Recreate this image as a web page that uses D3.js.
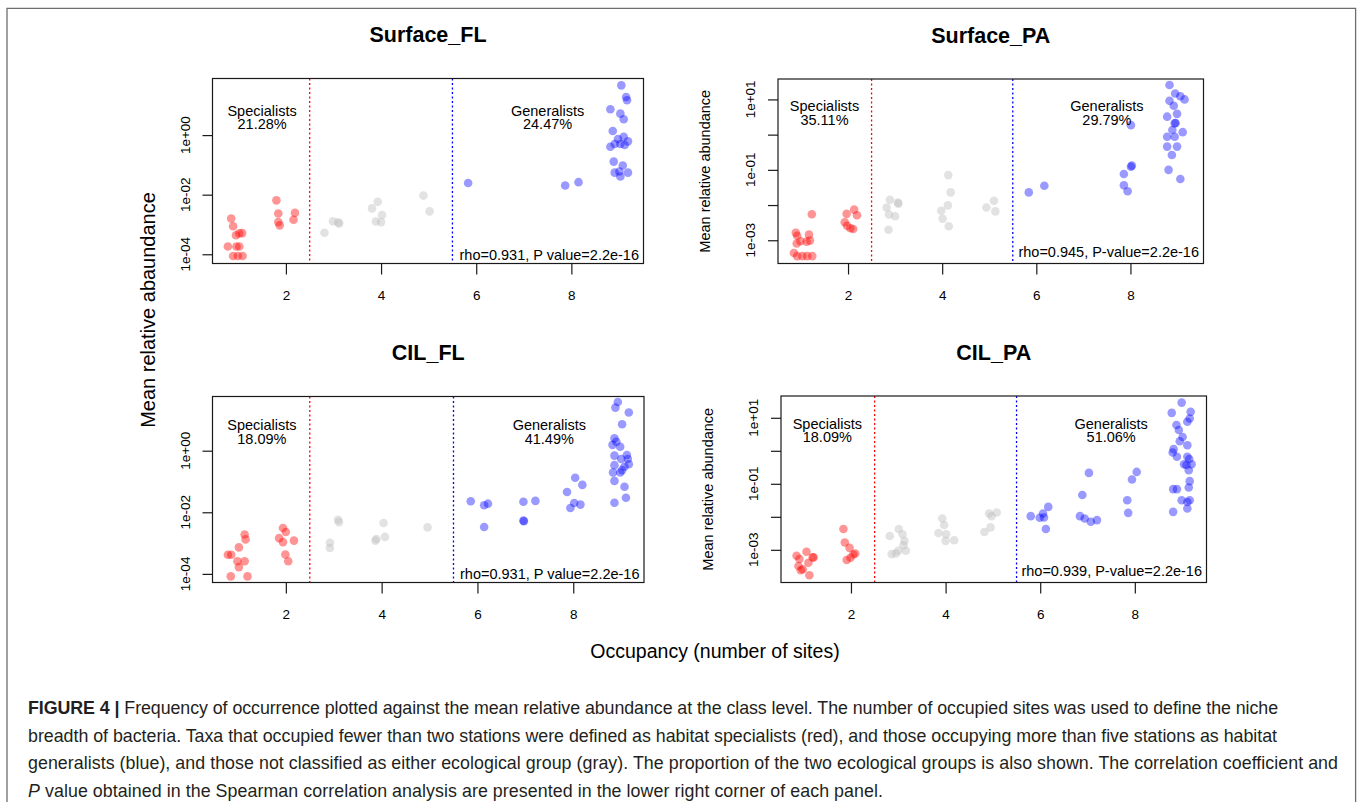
<!DOCTYPE html>
<html>
<head>
<meta charset="utf-8">
<script src="https://cdn.jsdelivr.net/npm/d3@7"></script>
<style>
body { margin:0; background:#fff; }
svg { display:block; font-family:'Liberation Sans', Arial, Helvetica, sans-serif; }
</style>
</head>
<body>
<svg id="chart" width="1357" height="802"></svg>
<script>

// data: x = occupancy (jittered), y = log10 of mean relative abundance
var panelNames = ['Surface_FL','Surface_PA','CIL_FL','CIL_PA'];
var specPercent = ['21.28%','35.11%','18.09%','18.09%'];
var genPercent = ['24.47%','29.79%','41.49%','51.06%'];
var rhoLabels = ['rho=0.931, P value=2.2e-16','rho=0.945, P-value=2.2e-16',
                 'rho=0.931, P value=2.2e-16','rho=0.939, P-value=2.2e-16'];
var xTicks = [2,4,6,8];
var yTicksFL = [-4,-2,0];
var yTicksPA = [-3,-2,-1,0,1];
var yLabelsPA = [-3,-1,1];

var surfaceFL_spec = [[0.85,-2.80],[0.89,-3.06],[0.95,-3.36],[1.02,-3.30],[1.08,-3.29],[0.78,-3.74],[0.96,-3.74],[1.02,-3.74],
  [0.89,-4.06],[0.99,-4.06],[1.09,-4.06],[1.80,-2.19],[1.84,-2.63],[1.84,-2.92],[1.87,-3.03],[2.19,-2.61],[2.16,-2.84]];
var surfaceFL_other = [[2.81,-3.28],[2.99,-2.89],[3.12,-2.97],[3.10,-2.93],[3.81,-2.46],[3.93,-2.24],[4.02,-2.68],[3.89,-2.90],
  [4.00,-2.92],[4.89,-2.03],[5.02,-2.56]];
var surfaceFL_gen = [[5.83,-1.61],[7.87,-1.69],[8.15,-1.58],[9.05,1.67],[9.15,1.28],[9.17,1.17],[8.82,0.87],[9.03,0.72],
  [9.10,0.53],[8.87,0.14],[9.10,-0.06],[8.98,-0.13],[9.19,-0.21],[8.82,-0.39],[8.91,-0.30],[9.03,-0.30],[9.12,-0.33],
  [8.89,-0.89],[9.08,-1.02],[8.91,-1.26],[9.01,-1.22],[9.19,-1.26],[9.03,-1.39]];

var surfacePA_spec = [[0.89,-2.79],[0.92,-2.87],[0.91,-3.09],[0.99,-3.03],[1.17,-2.84],[1.19,-3.01],[1.12,-3.04],[0.85,-3.36],
  [0.92,-3.45],[1.03,-3.45],[1.13,-3.45],[1.24,-3.45],[1.23,-2.26],[1.97,-2.25],[1.93,-2.49],[1.98,-2.59],[2.05,-2.66],
  [2.11,-2.68],[2.13,-2.13],[2.19,-2.29]];
var surfacePA_other = [[2.89,-1.85],[2.82,-2.07],[2.87,-2.27],[3.00,-2.32],[3.07,-1.96],[3.06,-1.93],[2.86,-2.70],[4.13,-1.15],
  [4.18,-1.64],[4.12,-2.01],[3.98,-2.16],[4.01,-2.39],[4.14,-2.60],[4.94,-2.07],[5.10,-1.88],[5.13,-2.18]];
var surfacePA_gen = [[5.84,-1.64],[6.17,-1.45],[7.86,-1.12],[8.01,-0.91],[8.03,-0.88],[7.86,-1.44],[7.94,-1.61],[8.01,0.27],
  [8.83,1.41],[8.95,1.17],[9.06,1.09],[9.15,1.00],[8.83,0.96],[8.92,0.82],[8.99,0.59],[8.78,0.51],[8.94,0.32],[8.96,0.33],
  [8.89,0.13],[9.11,0.07],[8.78,-0.06],[8.94,-0.06],[8.78,-0.34],[8.99,-0.34],[8.88,-0.58],[8.81,-1.00],[9.06,-1.26]];

var cilFL_spec = [[1.14,-2.72],[1.16,-2.88],[1.02,-3.14],[0.79,-3.38],[0.86,-3.38],[0.99,-3.59],[1.14,-3.59],[1.02,-3.78],
  [0.85,-4.08],[1.20,-4.08],[1.94,-2.51],[2.00,-2.64],[1.86,-2.84],[1.94,-2.97],[2.17,-2.92],[1.99,-3.37],[2.05,-3.59]];
var cilFL_other = [[3.09,-2.24],[3.11,-2.32],[2.92,-2.99],[2.92,-3.16],[4.04,-2.35],[4.07,-2.80],[3.87,-2.92],[3.89,-2.87],
  [4.96,-2.49]];
var cilFL_gen = [[5.86,-1.64],[6.14,-1.77],[6.22,-1.72],[6.14,-2.48],[6.96,-1.66],[7.21,-1.63],[6.96,-2.27],[6.97,-2.29],
  [7.87,-1.34],[8.04,-0.88],[8.19,-1.11],[8.02,-1.70],[7.94,-1.86],[8.15,-1.75],[8.93,1.58],[8.88,1.40],[9.16,1.24],
  [9.02,0.86],[8.86,0.40],[8.90,0.29],[8.82,0.19],[8.98,0.13],[8.86,-0.16],[9.12,-0.14],[9.00,-0.27],[9.14,-0.27],
  [9.16,-0.44],[8.86,-0.47],[9.07,-0.52],[9.02,-0.63],[8.83,-0.71],[8.98,-0.71],[8.86,-0.98],[9.07,-1.17],[9.10,-1.53],
  [8.86,-1.69]];

var cilPA_spec = [[0.85,-3.18],[0.91,-3.28],[1.06,-3.06],[1.19,-3.23],[1.21,-3.23],[0.89,-3.49],[0.98,-3.59],[1.10,-3.39],
  [0.94,-3.62],[1.12,-3.77],[1.84,-2.37],[1.87,-2.78],[1.97,-2.94],[2.05,-3.14],[2.09,-3.11],[1.91,-3.31],[1.99,-3.24]];
var cilPA_other = [[2.82,-2.58],[3.01,-2.37],[3.09,-2.53],[3.13,-2.73],[3.11,-2.86],[3.16,-3.03],[3.00,-3.03],[2.86,-3.13],
  [2.95,-3.11],[3.93,-2.05],[3.97,-2.25],[3.85,-2.49],[4.01,-2.53],[4.00,-2.73],[4.18,-2.71],[4.92,-1.90],[5.08,-1.87],
  [4.97,-1.98],[4.95,-2.32],[4.82,-2.46]];
var cilPA_gen = [[5.80,-1.98],[5.99,-2.03],[6.08,-2.02],[6.17,-1.70],[6.06,-1.90],[6.12,-2.37],[7.03,-0.67],[6.89,-1.34],
  [6.84,-1.98],[6.94,-2.05],[7.07,-2.15],[7.20,-2.10],[8.04,-0.64],[7.94,-0.87],[7.84,-1.50],[7.86,-1.88],[8.99,1.46],
  [8.78,1.15],[9.18,1.18],[9.16,0.98],[9.11,0.88],[8.88,0.78],[8.93,0.63],[9.01,0.42],[8.95,0.29],[9.11,0.17],[8.82,0.05],
  [8.80,-0.05],[8.89,-0.18],[9.11,-0.18],[9.15,-0.25],[9.04,-0.41],[9.09,-0.43],[9.20,-0.41],[9.14,-0.59],[9.16,-0.92],
  [9.14,-1.11],[8.81,-1.16],[8.89,-1.16],[8.99,-1.50],[9.11,-1.55],[9.16,-1.50],[9.11,-1.75],[8.81,-1.85]];

var panelPoints = [
  [surfaceFL_spec, surfaceFL_other, surfaceFL_gen],
  [surfacePA_spec, surfacePA_other, surfacePA_gen],
  [cilFL_spec, cilFL_other, cilFL_gen],
  [cilPA_spec, cilPA_other, cilPA_gen]
];

var captionLines = [
  [['FIGURE 4 | ','bold'],['Frequency of occurrence plotted against the mean relative abundance at the class level. The number of occupied sites was used to define the niche','normal']],
  [['breadth of bacteria. Taxa that occupied fewer than two stations were defined as habitat specialists (red), and those occupying more than five stations as habitat','normal']],
  [['generalists (blue), and those not classified as either ecological group (gray). The proportion of the two ecological groups is also shown. The correlation coefficient and','normal']],
  [['P','italic'],[' value obtained in the Spearman correlation analysis are presented in the lower right corner of each panel.','normal']]
];

// layout
var colorBlack = '#000';
var groupColors = ['#ff0000','#bebebe','#0000ff'];
var groupOpacity = [0.42,0.45,0.4];

var layout = [
  {left:212.5, right:643.5, top:78.5, bottom:263.5, xlim:[0.457,9.516], ylim:[-4.31,1.90], pa:false, labelY:0.571, rhoOff:4},
  {left:778, right:1203.5, top:79, bottom:263.5, xlim:[0.512,9.552], ylim:[-3.66,1.58], pa:true, labelY:0.59, rhoOff:6.5},
  {left:212.5, right:644, top:396.5, bottom:582.5, xlim:[0.469,9.477], ylim:[-4.28,1.76], pa:false, labelY:0.576, rhoOff:4},
  {left:781, right:1206.5, top:396, bottom:582.5, xlim:[0.521,9.515], ylim:[-3.99,1.66], pa:true, labelY:0.588, rhoOff:6.5}
];

var svg = d3.select('#chart');

// outer frame
svg.append('path')
   .attr('d','M7,802 L7,8.3 L1355.6,8.3 L1355.6,802')
   .attr('fill','none')
   .attr('stroke','#6e6e6e')
   .attr('stroke-width',1.3);

function expLabel(d) {
  return '1e' + (d < 0 ? '-' : '+') + String(Math.abs(d)).padStart(2,'0');
}

layout.forEach(function(p, i) {

  var x = d3.scaleLinear().domain(p.xlim).range([p.left, p.right]);
  var y = d3.scaleLog().domain([Math.pow(10,p.ylim[0]), Math.pow(10,p.ylim[1])]).range([p.bottom, p.top]);
  var g = svg.append('g');

  // title
  g.append('text')
   .text(panelNames[i])
   .attr('x',(p.left+p.right)/2)
   .attr('y',p.top-36.5)
   .attr('text-anchor','middle')
   .style('font-size','21.5px')
   .style('font-weight','bold');

  // points
  panelPoints[i].forEach(function(pts, k) {
    g.append('g').selectAll('circle')
     .data(pts)
     .enter().append('circle')
     .attr('cx',function(d){ return x(d[0]); })
     .attr('cy',function(d){ return y(Math.pow(10,d[1])); })
     .attr('r',4.3)
     .attr('fill',groupColors[k])
     .attr('fill-opacity',groupOpacity[k]);
  });

  // cut-off lines
  g.append('line')
   .attr('x1',x(2.5)).attr('x2',x(2.5))
   .attr('y1',p.top).attr('y2',p.bottom)
   .attr('stroke','#ff0000')
   .attr('stroke-width',1.3)
   .attr('stroke-dasharray','2,2.5');
  g.append('line')
   .attr('x1',x(5.5)).attr('x2',x(5.5))
   .attr('y1',p.top).attr('y2',p.bottom)
   .attr('stroke','#0000ff')
   .attr('stroke-width',1.3)
   .attr('stroke-dasharray','2,2.5');

  // group labels
  var ly = y(Math.pow(10,p.labelY)) - 2.5;
  [[1.5,'Specialists',specPercent[i]],[7.5,'Generalists',genPercent[i]]].forEach(function(l) {
    g.append('text')
     .text(l[1])
     .attr('x',x(l[0]))
     .attr('y',ly)
     .attr('text-anchor','middle')
     .style('font-size','14.5px');
    g.append('text')
     .text(l[2])
     .attr('x',x(l[0]))
     .attr('y',ly+13.5)
     .attr('text-anchor','middle')
     .style('font-size','14.5px');
  });

  g.append('text')
   .text(rhoLabels[i])
   .attr('x',p.right-4.5)
   .attr('y',p.bottom-p.rhoOff)
   .attr('text-anchor','end')
   .style('font-size','14.5px');

  // box
  g.append('rect')
   .attr('x',p.left).attr('y',p.top)
   .attr('width',p.right-p.left).attr('height',p.bottom-p.top)
   .attr('fill','none')
   .attr('stroke','#1a1a1a')
   .attr('stroke-width',1.2);

  // x axis
  var xAxis = g.append('g')
               .attr('transform','translate(0,' + p.bottom + ')')
               .call(d3.axisBottom(x).tickValues(xTicks).tickSize(11).tickSizeOuter(0).tickPadding(16));
  xAxis.select('.domain').remove();
  xAxis.selectAll('line').attr('stroke','#1a1a1a').attr('stroke-width',1.2);
  xAxis.selectAll('text').style('font-size','13.5px').style('font-family','inherit').attr('fill',colorBlack);

  // y axis
  var yTicks = p.pa ? yTicksPA : yTicksFL;
  var yLabels = p.pa ? yLabelsPA : yTicksFL;
  var yAxis = g.append('g')
               .attr('transform','translate(' + p.left + ',0)')
               .call(d3.axisLeft(y).tickValues(yTicks.map(function(d){ return Math.pow(10,d); }))
                                   .tickSize(10).tickSizeOuter(0).tickFormat(''));
  yAxis.select('.domain').remove();
  yAxis.selectAll('line').attr('stroke','#1a1a1a').attr('stroke-width',1.2);

  g.selectAll('.ylab')
   .data(yLabels)
   .enter().append('text')
   .attr('class','ylab')
   .text(expLabel)
   .attr('transform',function(d){ return 'translate(' + (p.left-23) + ',' + y(Math.pow(10,d)) + ') rotate(-90)'; })
   .attr('text-anchor','middle')
   .style('font-size','13.5px');

  if (p.pa) {
    g.append('text')
     .text('Mean relative abundance')
     .attr('transform','translate(' + (p.left-68) + ',' + ((p.top+p.bottom)/2) + ') rotate(-90)')
     .attr('text-anchor','middle')
     .style('font-size','14.5px');
  }
});

// shared axis titles
svg.append('text')
   .text('Occupancy (number of sites)')
   .attr('x',715)
   .attr('y',658)
   .attr('text-anchor','middle')
   .style('font-size','19.5px');

svg.append('text')
   .text('Mean relative abaundance')
   .attr('transform','translate(155,310) rotate(-90)')
   .attr('text-anchor','middle')
   .style('font-size','20px');

// caption: size the font from the natural widths, then fine tune each line
var captionEnds = [1278,1277,1338,883];
var captionText = [];
captionLines.forEach(function(line, i) {
  var t = svg.append('text')
             .attr('x',28)
             .attr('y',714 + i*27.5)
             .attr('fill','#231f20')
             .style('font-size','15.5px');
  line.forEach(function(s) {
    var ts = t.append('tspan').text(s[0]);
    if (s[1] == 'bold') ts.style('font-weight','bold');
    if (s[1] == 'italic') ts.style('font-style','italic');
  });
  captionText.push(t);
});
var ratio = d3.mean(captionText, function(t, i){ return (captionEnds[i]-28) / t.node().getComputedTextLength(); });
captionText.forEach(function(t, i) {
  t.style('font-size',(15.5*ratio) + 'px');
  var w = t.node().getComputedTextLength();
  t.style('letter-spacing',((captionEnds[i]-28-w)/t.text().length) + 'px');
});

</script>
</body>
</html>
